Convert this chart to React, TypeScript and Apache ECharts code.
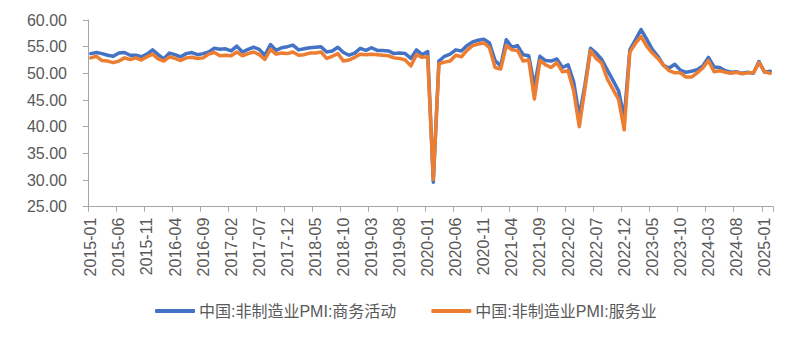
import React, { useEffect, useRef } from "react";
import * as echarts from "echarts";

const SERIES_NAMES = ["中国:非制造业PMI:商务活动", "中国:非制造业PMI:服务业"];

const START_YEAR = 2015;
const END_YEAR = 2025;
const END_MONTH = 2;

const categories: string[] = [];
for (let y = START_YEAR; y <= END_YEAR; y++) {
  const last = y === END_YEAR ? END_MONTH : 12;
  for (let m = 1; m <= last; m++) categories.push(`${y}-${m < 10 ? "0" + m : m}`);
}

const businessActivity = [
  53.7, 53.9, 53.7, 53.4, 53.2, 53.8, 53.9, 53.4, 53.4, 53.1, 53.6, 54.4,
  53.5, 52.7, 53.8, 53.5, 53.1, 53.7, 53.9, 53.5, 53.7, 54.0, 54.7, 54.5,
  54.6, 54.2, 55.1, 54.0, 54.5, 54.9, 54.5, 53.4, 55.4, 54.3, 54.8, 55.0,
  55.3, 54.4, 54.6, 54.8, 54.9, 55.0, 54.0, 54.2, 54.9, 53.9, 53.4, 53.8,
  54.7, 54.3, 54.8, 54.3, 54.3, 54.2, 53.7, 53.8, 53.7, 52.8, 54.4, 53.5,
  54.1, 29.6, 52.3, 53.2, 53.6, 54.4, 54.2, 55.2, 55.9, 56.2, 56.4, 55.7,
  52.4, 51.4, 56.3, 54.9, 55.2, 53.5, 53.3, 47.5, 53.2, 52.4, 52.3, 52.7,
  51.1, 51.6, 48.4, 41.9, 47.8, 54.7, 53.8, 52.6, 50.6, 48.7, 46.7, 41.6,
  54.4, 56.3, 58.2, 56.4, 54.5, 53.2, 51.5, 51.0, 51.7, 50.6, 50.2, 50.4,
  50.7, 51.4, 53.0, 51.2, 51.1, 50.5, 50.2, 50.3, 50.0, 50.2, 50.0, 52.2,
  50.2, 50.4,
];

const services = [
  52.9, 53.2, 52.4, 52.3, 52.0, 52.3, 52.9, 52.6, 52.9, 52.5, 53.1, 53.6,
  52.7, 52.3, 53.1, 52.8, 52.4, 52.9, 53.0, 52.8, 52.9, 53.6, 53.9, 53.3,
  53.4, 53.3, 54.0, 53.3, 53.7, 54.0, 53.5, 52.6, 54.5, 53.6, 53.8, 53.7,
  54.0, 53.4, 53.5, 53.8, 53.8, 54.0, 52.8, 53.2, 53.7, 52.3, 52.5, 53.0,
  53.6, 53.5, 53.6, 53.5, 53.4, 53.3, 52.9, 52.8, 52.5, 51.4, 53.5, 53.0,
  53.1, 30.1, 51.8, 52.1, 52.3, 53.4, 53.1, 54.3, 55.2, 55.5, 55.7, 54.8,
  51.1, 50.8, 55.2, 54.4, 54.3, 52.3, 52.5, 45.2, 52.4, 51.6, 51.1, 52.0,
  50.3, 50.5, 46.7, 40.0, 47.1, 54.3, 52.8, 51.9, 48.9, 47.0, 45.1, 39.4,
  54.0, 55.6, 56.9, 55.1, 53.8, 52.8, 51.5, 50.5, 50.1, 50.1, 49.3, 49.3,
  50.1, 51.0, 52.4, 50.3, 50.5, 50.2, 50.0, 50.2, 49.9, 50.1, 50.1, 52.0,
  50.3, 50.0,
];

const Y_MIN = 25;
const Y_MAX = 60;
const Y_STEP = 5;

const FONT = '"Liberation Sans", "Noto Sans CJK SC", sans-serif';
const TEXT_COLOR = "#595959";
const AXIS_COLOR = "#A6A6A6";
const COLORS = ["#4472C4", "#ED7D31"];

export default function App() {
  const ref = useRef<HTMLDivElement>(null);

  useEffect(() => {
    document.body.style.margin = "0";
    if (!ref.current) return;
    const chart = echarts.init(ref.current, undefined, { renderer: "svg" });
    chart.setOption({
      animation: false,
      backgroundColor: "#ffffff",
      color: COLORS,
      textStyle: { fontFamily: FONT },
      grid: { left: 88, right: 31, top: 20, height: 186.7, containLabel: false },
      legend: {
        left: 155,
        top: 303,
        padding: 0,
        itemGap: 35,
        itemWidth: 40,
        itemHeight: 4,
        icon: "roundRect",
        textStyle: { fontFamily: FONT, fontSize: 16, color: TEXT_COLOR, padding: [0, 0, 0, -1] },
        data: SERIES_NAMES,
      },
      xAxis: {
        type: "category",
        data: categories,
        boundaryGap: true,
        axisLine: { show: true, lineStyle: { color: AXIS_COLOR, width: 1 } },
        axisTick: { show: true, interval: 4, length: 5, lineStyle: { color: AXIS_COLOR } },
        axisLabel: {
          interval: 4,
          rotate: 90,
          margin: 11,
          fontFamily: FONT,
          fontSize: 16,
          color: TEXT_COLOR,
        },
        splitLine: { show: false },
      },
      yAxis: {
        type: "value",
        min: Y_MIN,
        max: Y_MAX,
        interval: Y_STEP,
        axisLine: { show: true, lineStyle: { color: AXIS_COLOR, width: 1 } },
        axisTick: { show: true, length: 5, lineStyle: { color: AXIS_COLOR } },
        axisLabel: {
          margin: 21,
          fontFamily: FONT,
          fontSize: 16,
          color: TEXT_COLOR,
          formatter: (v: number) => v.toFixed(2),
        },
        splitLine: { show: false },
      },
      series: [
        {
          name: SERIES_NAMES[0],
          type: "line",
          data: businessActivity,
          symbol: "none",
          lineStyle: { width: 3.5, color: COLORS[0], join: "round", cap: "round" },
          itemStyle: { color: COLORS[0] },
          z: 2,
        },
        {
          name: SERIES_NAMES[1],
          type: "line",
          data: services,
          symbol: "none",
          lineStyle: { width: 3.5, color: COLORS[1], join: "round", cap: "round" },
          itemStyle: { color: COLORS[1] },
          z: 3,
        },
      ],
    });
    return () => chart.dispose();
  }, []);

  return <div ref={ref} style={{ width: 804, height: 339 }} />;
}
